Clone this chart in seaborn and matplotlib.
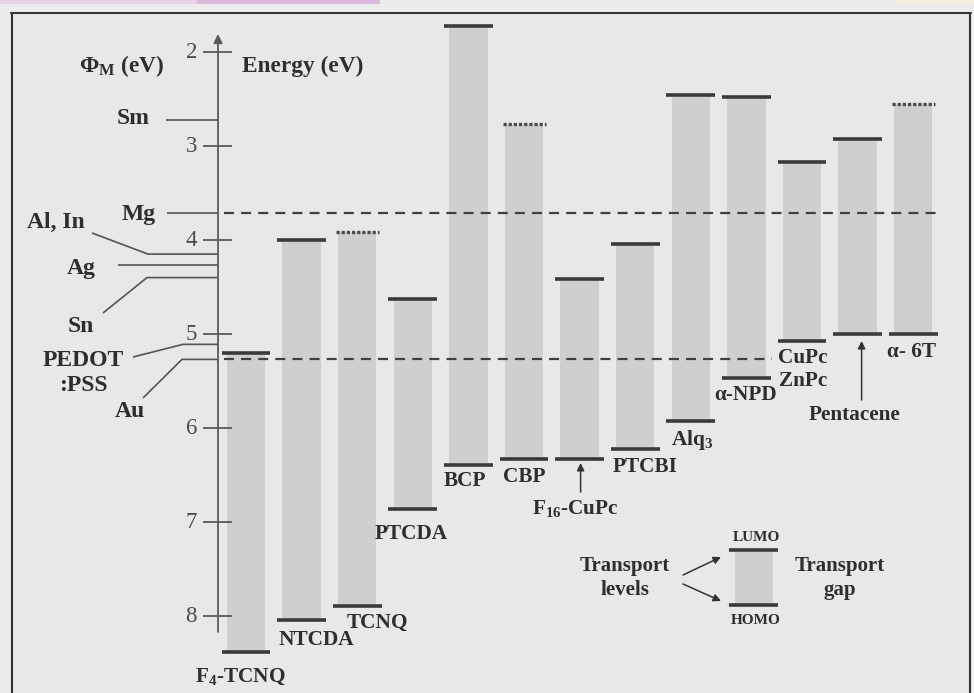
import numpy as np
import pandas as pd
import matplotlib
matplotlib.use("Agg")
import matplotlib.pyplot as plt
from matplotlib.patches import Rectangle
from matplotlib.lines import Line2D
import seaborn as sns

# ---------------- data ----------------
molecules = ["F4-TCNQ", "NTCDA", "TCNQ", "PTCDA", "BCP", "CBP", "F16-CuPc",
             "PTCBI", "Alq3", "α-NPD", "CuPc/ZnPc", "Pentacene", "α-6T"]
lumo = [5.20, 4.00, 3.91, 4.63, 1.72, 2.77, 4.41, 4.04, 2.46, 2.48, 3.17, 2.93, 2.55]
homo = [8.38, 8.04, 7.89, 6.86, 6.39, 6.33, 6.33, 6.22, 5.93, 5.47, 5.07, 5.00, 5.00]
lumo_dotted = [False, False, True, False, False, True, False,
               False, False, False, False, False, True]
metals = ["Sm", "Mg", "Al, In", "Ag", "Sn", "PEDOT:PSS", "Au"]
work_function = [2.72, 3.71, 4.15, 4.27, 4.40, 5.11, 5.27]
energy_ticks = [2, 3, 4, 5, 6, 7, 8]

# ---------------- style ----------------
sns.set_theme(style="white")
plt.rcParams["font.family"] = ["Liberation Serif", "DejaVu Serif"]
plt.rcParams["font.weight"] = "bold"
plt.rcParams["mathtext.fontset"] = "custom"
plt.rcParams["mathtext.rm"] = "Liberation Serif:bold"
plt.rcParams["mathtext.bf"] = "Liberation Serif:bold"
plt.rcParams["mathtext.it"] = "Liberation Serif:bold"

INK = "#2e2e2e"
LEVEL = "#3a3a3a"
BAR = "#cfcfcf"
AXC = "#5a5a5a"
BG_IN = "#e8e8e8"
BG_OUT = "#ececec"

W, H = 974, 693
SLOT0, SLOT = 246.0, 55.6      # layout of the category slots (px)
E0_PX, PX_PER_EV = 52.0, 94.0  # layout of the energy axis (px)


def X(px):
    return (px - SLOT0) / SLOT


def Y(py):
    return 2 + (py - E0_PX) / PX_PER_EV


fig = plt.figure(figsize=(W / 100, H / 100), dpi=100, facecolor=BG_OUT)

# frame and background
fig.patches.append(Rectangle((12 / W, 0), (970 - 12) / W, 1 - 13 / H,
                             transform=fig.transFigure, facecolor=BG_IN,
                             edgecolor="none", zorder=-5))
for (x0, y0, x1, y1) in [(12, 13, 12, 693), (11, 13, 971, 13), (970, 13, 970, 693)]:
    fig.lines.append(Line2D([x0 / W, x1 / W], [1 - y0 / H, 1 - y1 / H],
                            transform=fig.transFigure, color="#333333", lw=1.5,
                            zorder=5))
# small coloured strips at the top edge of the screenshot
for (x0, w, c) in [(0, 380, "#e8d3e8"), (197, 183, "#dcbadf"), (894, 80, "#f2efdc")]:
    fig.patches.append(Rectangle((x0 / W, 1 - 4 / H), w / W, 4 / H,
                                 transform=fig.transFigure, facecolor=c,
                                 edgecolor="none", zorder=-4))

ax = fig.add_axes([0, 0, 1, 1])
ax.set_facecolor("none")

df = pd.DataFrame({"molecule": molecules, "lumo": lumo, "homo": homo})
df["gap"] = df["homo"] - df["lumo"]

sns.barplot(data=df, x="molecule", y="gap", bottom=df["lumo"].to_numpy(),
            color=BAR, saturation=1, width=0.69, errorbar=None,
            linewidth=0, ax=ax, zorder=2)

idx = np.arange(len(molecules))
half = 0.44
solid = ~np.array(lumo_dotted)
ax.hlines(np.array(lumo)[solid], idx[solid] - half, idx[solid] + half,
          color=LEVEL, lw=2.6, zorder=3)
ax.hlines(np.array(lumo)[~solid], idx[~solid] - 0.38, idx[~solid] + 0.40,
          color="#4a4a4a", lw=2.4, linestyles=(0, (0.95, 0.6)), zorder=3)
ax.hlines(homo, idx - half, idx + half, color=LEVEL, lw=2.6, zorder=3)

# ---------------- energy axis ----------------
xa = X(218)
ax.annotate("", xy=(xa, Y(34)), xytext=(xa, Y(632)),
            arrowprops=dict(arrowstyle="-|>", color=AXC, lw=1.3,
                            mutation_scale=13, shrinkA=0, shrinkB=0))
ax.hlines(energy_ticks, X(203), X(232), color=AXC, lw=1.3)
for t in energy_ticks:
    ax.text(X(197), t, str(t), ha="right", va="center", fontsize=16.5,
            fontweight="normal", color="#4a4a4a")
ax.text(X(242), Y(66), "Energy (eV)", ha="left", va="center", fontsize=16.8, color=INK)
ax.text(X(164), Y(66), r"Φ$_{\rm M}$ (eV)", ha="right", va="center", fontsize=16.8, color=INK)

# ---------------- metal work functions ----------------
metal_layout = {
    "Sm": dict(lab=(133, 118), path=[(166, None)]),
    "Mg": dict(lab=(139, 214), path=[(167, None)]),
    "Al, In": dict(lab=(56, 222), path=[(92, 233), (148, None)]),
    "Ag": dict(lab=(81, 268), path=[(118, None)]),
    "Sn": dict(lab=(81, 326), path=[(103, 313), (147, None)]),
    "PEDOT:PSS": dict(lab=(83, 373), path=[(133, 357), (183, None)]),
    "Au": dict(lab=(130, 411), path=[(143, 398), (182, None)]),
}
for name, wf in zip(metals, work_function):
    lay = metal_layout[name]
    xs, ys = [], []
    for (px, py) in lay["path"]:
        xs.append(X(px))
        ys.append(wf if py is None else Y(py))
    xs.append(xa)
    ys.append(wf)
    ax.plot(xs, ys, color="#555555", lw=1.2, zorder=3, solid_capstyle="butt")
    label = "PEDOT\n:PSS" if name == "PEDOT:PSS" else name
    ax.text(X(lay["lab"][0]), Y(lay["lab"][1]), label, ha="center", va="center",
            fontsize=17, color=INK, linespacing=1.2)

ax.hlines(work_function[metals.index("Mg")], X(224), X(938), color="#404040",
          lw=1.6, linestyles=(0, (4.5, 3.2)), zorder=4)
ax.hlines(work_function[metals.index("Au")], X(224), X(772), color="#404040",
          lw=1.6, linestyles=(0, (4.5, 3.2)), zorder=4)

# ---------------- molecule labels ----------------
mol_labels = {
    "F4-TCNQ": ("F$_4$-TCNQ", -6, 677),
    "NTCDA": ("NTCDA", 15, 640),
    "TCNQ": ("TCNQ", 20, 623),
    "PTCDA": ("PTCDA", -2, 534),
    "BCP": ("BCP", -3, 481),
    "CBP": ("CBP", 0, 477),
    "F16-CuPc": ("F$_{16}$-CuPc", -4, 508),
    "PTCBI": ("PTCBI", 10, 467),
    "Alq3": ("Alq$_3$", 1, 440),
    "α-NPD": ("α-NPD", -1, 395),
    "CuPc/ZnPc": ("CuPc\nZnPc", 1, 369),
    "Pentacene": ("Pentacene", -3, 415),
    "α-6T": ("α- 6T", -2, 352),
}
for i, name in enumerate(molecules):
    txt, dx, py = mol_labels[name]
    ax.text(i + dx / SLOT, Y(py), txt, ha="center", va="center", fontsize=15.3,
            color=INK, linespacing=1.2)

arrow_kw = dict(arrowstyle="-|>", color="#333333", lw=1.1, mutation_scale=11,
                shrinkA=0, shrinkB=0)
i16 = molecules.index("F16-CuPc")
ax.annotate("", xy=(i16 + 1 / SLOT, Y(463)), xytext=(i16 + 1 / SLOT, Y(492)),
            arrowprops=arrow_kw)
ipn = molecules.index("Pentacene")
ax.annotate("", xy=(ipn + 4 / SLOT, Y(341)), xytext=(ipn + 4 / SLOT, Y(400)),
            arrowprops=arrow_kw)

# ---------------- key (legend) ----------------
ax.add_patch(Rectangle((X(735), Y(605)), X(773) - X(735), Y(550) - Y(605),
                       facecolor=BAR, edgecolor="none", zorder=2))
ax.hlines([Y(550), Y(605)], X(729), X(778), color=LEVEL, lw=2.6, zorder=3)
ax.text(X(756), Y(537), "LUMO", ha="center", va="center", fontsize=11, color=INK)
ax.text(X(756), Y(621), "HOMO", ha="center", va="center", fontsize=11, color=INK)
ax.text(X(625), Y(578), "Transport\nlevels", ha="center", va="center",
        fontsize=15, color=INK, linespacing=1.25)
ax.text(X(840), Y(578), "Transport\ngap", ha="center", va="center",
        fontsize=15, color=INK, linespacing=1.25)
ax.annotate("", xy=(X(721), Y(557)), xytext=(X(683), Y(575)), arrowprops=arrow_kw)
ax.annotate("", xy=(X(721), Y(601)), xytext=(X(683), Y(584)), arrowprops=arrow_kw)

ax.set_xlim(X(0), X(W))
ax.set_ylim(Y(H), Y(0))
ax.set_axis_off()

fig.savefig("out.png", dpi=100, facecolor=fig.get_facecolor())
